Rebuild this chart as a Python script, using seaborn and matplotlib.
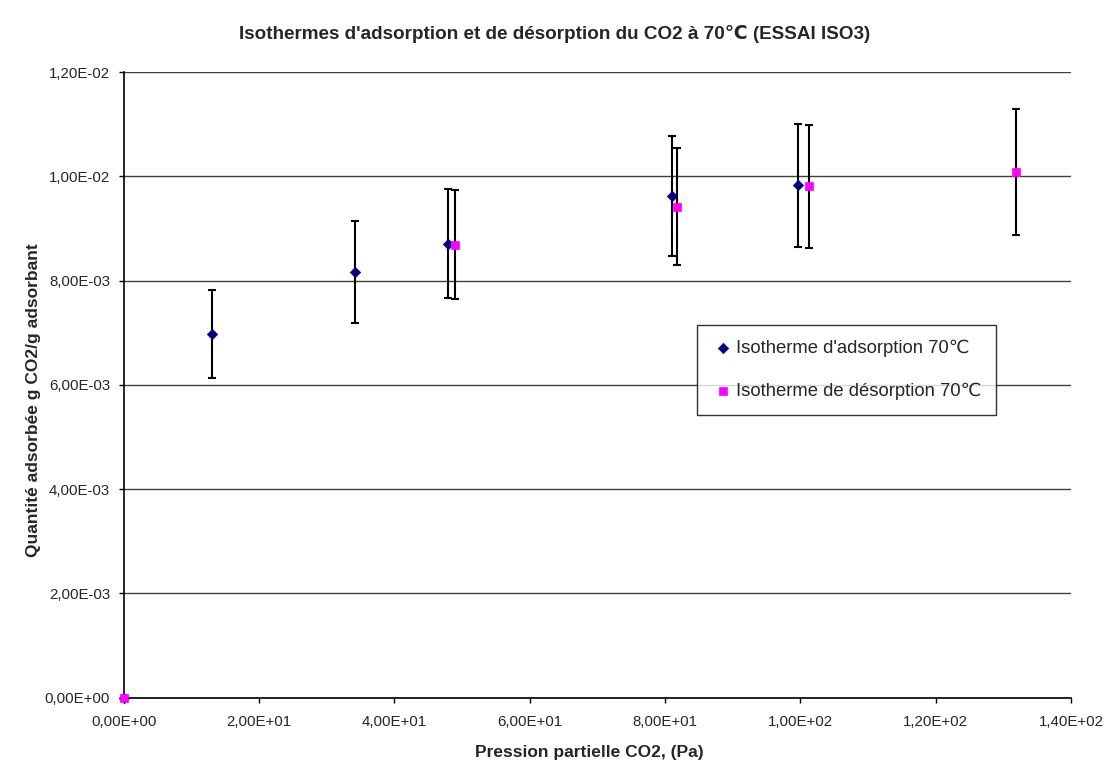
import matplotlib
matplotlib.use("Agg")
import matplotlib.pyplot as plt
from matplotlib.ticker import FuncFormatter, MultipleLocator
import seaborn as sns
import pandas as pd

# Adsorption isotherm at 70 °C
ads_pressure = [0.0, 13.1, 34.2, 47.9, 81.0, 99.7]
ads_quantity = [0.0, 6.97e-3, 8.17e-3, 8.71e-3, 9.62e-3, 9.83e-3]
ads_error = [0.0, 8.4e-4, 9.8e-4, 1.04e-3, 1.15e-3, 1.18e-3]

# Desorption isotherm at 70 °C
des_pressure = [0.0, 49.0, 81.8, 101.2, 131.8]
des_quantity = [0.0, 8.69e-3, 9.42e-3, 9.81e-3, 1.009e-2]
des_error = [0.0, 1.04e-3, 1.13e-3, 1.18e-3, 1.21e-3]

label_ads = "Isotherme d'adsorption 70\u2103"
label_des = "Isotherme de d\u00e9sorption 70\u2103"

sns.set_style("white")
plt.rcParams["font.family"] = ["Liberation Sans", "DejaVu Sans"]

fig = plt.figure(figsize=(11.1, 7.62), dpi=100)
ax = fig.add_axes([0.1114, 0.0844, 0.8536, 0.8211])

df_ads = pd.DataFrame({"p": ads_pressure, "q": ads_quantity})
df_des = pd.DataFrame({"p": des_pressure, "q": des_quantity})

# error bars
for px, qy, err in [(ads_pressure, ads_quantity, ads_error),
                    (des_pressure, des_quantity, des_error)]:
    ax.errorbar(px, qy, yerr=err, fmt="none", ecolor="black",
                elinewidth=1.5, capsize=2.8, capthick=1.5, zorder=3)

sns.scatterplot(data=df_ads, x="p", y="q", ax=ax, marker="D", s=28,
                color="#000080", edgecolor="#000080", linewidth=0.5,
                label=label_ads, zorder=4, clip_on=False)
sns.scatterplot(data=df_des, x="p", y="q", ax=ax, marker="s", s=33,
                color="#FF00FF", edgecolor="#FF00FF", linewidth=0.5,
                label=label_des, zorder=5, clip_on=False)

ax.set_xlim(0, 140)
ax.set_ylim(0, 0.012)
ax.xaxis.set_major_locator(MultipleLocator(20))
ax.yaxis.set_major_locator(MultipleLocator(0.002))

sci_fmt = FuncFormatter(lambda v, pos: f"{v:.2E}".replace(".", ","))
ax.xaxis.set_major_formatter(sci_fmt)
ax.yaxis.set_major_formatter(sci_fmt)

ax.yaxis.grid(True, color="#404040", linewidth=1.0)
ax.xaxis.grid(False)
ax.set_axisbelow(True)

for side in ["top", "right"]:
    ax.spines[side].set_visible(False)
for side in ["left", "bottom"]:
    ax.spines[side].set_color("black")
    ax.spines[side].set_linewidth(1.2)

ax.tick_params(axis="both", which="major", direction="out", length=3.8,
               width=1, color="black", labelsize=10.8,
               bottom=True, left=True)
ax.tick_params(axis="x", pad=9)
ax.tick_params(axis="y", pad=6)

ax.set_xlabel("Pression partielle CO2, (Pa)", fontsize=12.5, fontweight="bold")
ax.set_ylabel("Quantit\u00e9 adsorb\u00e9e g CO2/g adsorbant", fontsize=12.5,
              fontweight="bold")
ax.xaxis.set_label_coords(0.491, -0.088)
ax.xaxis.label.set_va("center")
ax.yaxis.set_label_coords(-0.095, 0.476)
ax.yaxis.label.set_va("center")
ax.yaxis.label.set_ha("center")

fig.text(0.5, 0.955,
         "Isothermes d'adsorption et de d\u00e9sorption du CO2 \u00e0 70\u2103 (ESSAI ISO3)",
         fontsize=13.6, fontweight="bold", ha="center", va="center")

leg = ax.legend(loc="upper left", bbox_to_anchor=(0.6052, 0.5957),
                borderaxespad=0, frameon=True, fancybox=False,
                edgecolor="black", fontsize=13.3,
                handletextpad=0.1, borderpad=0.8, labelspacing=1.4,
                markerscale=1.0, handlelength=1.2)
leg.get_frame().set_linewidth(1.0)

fig.savefig("out.png", dpi=100, facecolor="white")
